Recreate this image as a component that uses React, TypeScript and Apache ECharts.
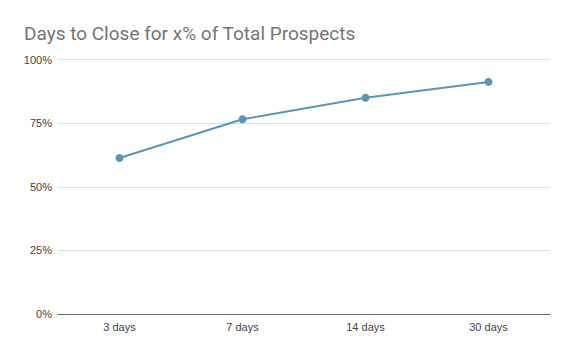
import React, { useEffect, useRef } from "react";
import * as echarts from "echarts";

const categories = ["3 days", "7 days", "14 days", "30 days"];
const values = [0.613, 0.765, 0.85, 0.912];
const titleText = "Days to Close for x% of Total Prospects";

export default function App() {
  const ref = useRef<HTMLDivElement>(null);
  useEffect(() => {
    if (!ref.current) return;
    const chart = echarts.init(ref.current, undefined, { renderer: "svg" });
    chart.setOption({
      animation: false,
      backgroundColor: "#ffffff",
      title: {
        text: titleText,
        left: 19,
        top: 19,
        textStyle: { fontFamily: "Roboto", fontSize: 19, fontWeight: "normal", color: "#757575" },
      },
      grid: { left: 58, right: 27, top: 59.5, bottom: 38 },
      xAxis: {
        type: "category",
        data: categories,
        boundaryGap: true,
        axisLine: { show: true, lineStyle: { color: "#666666", width: 1 } },
        axisTick: { show: false },
        axisLabel: { color: "#444444", fontSize: 11, fontFamily: "Liberation Sans, Arial", margin: 7 },
      },
      yAxis: {
        type: "value",
        min: 0,
        max: 1,
        interval: 0.25,
        axisLine: { show: false },
        axisTick: { show: false },
        splitLine: { lineStyle: { color: "#e0e0e0", width: 1 } },
        axisLabel: {
          color: "#444444",
          fontSize: 11,
          fontFamily: "Liberation Sans, Arial",
          margin: 6,
          formatter: (v: number) => Math.round(v * 100) + "%",
        },
      },
      series: [
        {
          type: "line",
          data: values,
          symbol: "circle",
          symbolSize: 8,
          lineStyle: { color: "#5b95b7", width: 2 },
          itemStyle: { color: "#5b95b7" },
        },
      ],
    });
    return () => chart.dispose();
  }, []);
  return (
    <div
      ref={ref}
      style={{ position: "fixed", left: 0, top: 0, width: 577, height: 352 }}
    />
  );
}
